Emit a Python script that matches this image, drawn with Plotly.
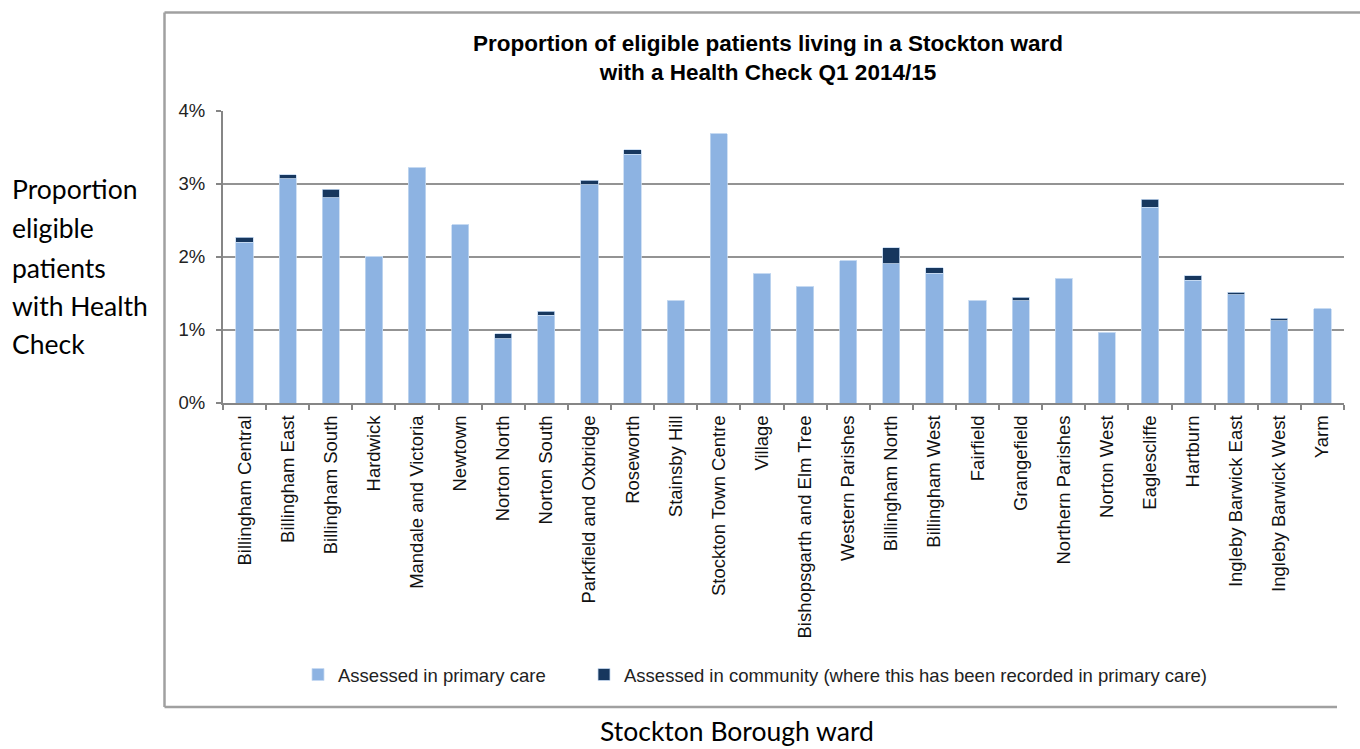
import plotly.graph_objects as go

wards = ["Billingham Central", "Billingham East", "Billingham South", "Hardwick",
         "Mandale and Victoria", "Newtown", "Norton North", "Norton South",
         "Parkfield and Oxbridge", "Roseworth", "Stainsby Hill", "Stockton Town Centre",
         "Village", "Bishopsgarth and Elm Tree", "Western Parishes", "Billingham North",
         "Billingham West", "Fairfield", "Grangefield", "Northern Parishes", "Norton West",
         "Eaglescliffe", "Hartburn", "Ingleby Barwick East", "Ingleby Barwick West", "Yarm"]

primary_care = [2.20, 3.07, 2.81, 2.01, 3.23, 2.44, 0.88, 1.20,
                2.99, 3.41, 1.41, 3.69, 1.77, 1.59, 1.95, 1.91,
                1.78, 1.41, 1.40, 1.71, 0.97, 2.68, 1.68, 1.48, 1.13, 1.29]
community = [0.07, 0.06, 0.12, 0.00, 0.00, 0.00, 0.07, 0.06,
             0.06, 0.06, 0.00, 0.00, 0.00, 0.00, 0.00, 0.22,
             0.07, 0.00, 0.05, 0.00, 0.00, 0.11, 0.06, 0.04, 0.03, 0.00]

y_ticks = [0, 1, 2, 3, 4]
y_tick_labels = ["0%", "1%", "2%", "3%", "4%"]

W, H = 1360, 749
L, R, T, B = 223, 16, 111, 346
pw, ph = W - L - R, H - T - B


def px_x(p):
    return (p - L) / pw


def px_y(p):
    return (H - B - p) / ph


font_main = "Liberation Sans, Arial, sans-serif"
font_side = "Lato, Carlito, Calibri, sans-serif"

fig = go.Figure()
fig.add_trace(go.Bar(x=wards, y=primary_care, name="Assessed in primary care",
                     legend="legend",
                     marker=dict(color="#8DB3E2", line=dict(color="#C6D9F1", width=0.8))))
fig.add_trace(go.Bar(x=wards, y=community,
                     name="Assessed in community (where this has been recorded in primary care)",
                     legend="legend2",
                     marker=dict(color="#17375E", line=dict(color="#C6D9F1", width=0.8))))

legend_common = dict(orientation="h", xanchor="left", yanchor="middle",
                     font=dict(family=font_main, size=18.5, color="#222222"),
                     bgcolor="rgba(0,0,0,0)", itemwidth=30)

fig.update_layout(
    width=W, height=H,
    barmode="stack", bargap=0.6,
    margin=dict(l=L, r=R, t=T, b=B, autoexpand=False),
    paper_bgcolor="white", plot_bgcolor="white",
    font=dict(family=font_main, size=18.5, color="#222222"),
    title=dict(text="<b>Proportion of eligible patients living in a Stockton ward<br>with a Health Check Q1 2014/15</b>",
               x=768 / W, xanchor="center", y=1 - 51 / H, yanchor="middle",
               font=dict(family=font_main, size=22.5, color="#000000")),
    xaxis=dict(type="category", tickson="boundaries", ticks="outside", ticklen=5,
               tickcolor="#868686", tickwidth=1.5, showline=True, linecolor="#868686",
               linewidth=2, tickangle=-90, showgrid=False, ticklabelstandoff=3,
               tickfont=dict(family=font_main, size=18.5, color="#111111")),
    yaxis=dict(range=[0, 4], tickvals=y_ticks, ticktext=y_tick_labels, ticks="outside",
               ticklen=5, tickcolor="#868686", tickwidth=1.5, showline=True,
               linecolor="#868686", linewidth=2, showgrid=True, gridcolor="#939393",
               gridwidth=1.5, zeroline=False, ticklabelstandoff=7,
               tickfont=dict(family=font_main, size=18.5, color="#222222")),
    legend=dict(x=px_x(298), y=px_y(675), **legend_common),
    legend2=dict(x=px_x(584), y=px_y(675), **legend_common),
    showlegend=True,
)

# outer frame of the embedded chart
frame_line = dict(color="#A0A0A0", width=2.5)
fig.add_shape(type="line", xref="paper", yref="paper",
              x0=px_x(164.5), x1=px_x(1360), y0=px_y(12.5), y1=px_y(12.5), line=frame_line)
fig.add_shape(type="line", xref="paper", yref="paper",
              x0=px_x(164.5), x1=px_x(164.5), y0=px_y(12.5), y1=px_y(707), line=frame_line)
fig.add_shape(type="line", xref="paper", yref="paper",
              x0=px_x(164.5), x1=px_x(1337), y0=px_y(707), y1=px_y(707), line=frame_line)

side_lines = ["Proportion", "eligible", "patients", "with Health", "Check"]
side_y = [189, 228, 268, 306, 344]
for txt, yy in zip(side_lines, side_y):
    fig.add_annotation(text=txt, xref="paper", yref="paper", x=px_x(10), xanchor="left",
                       y=px_y(yy), yanchor="middle", showarrow=False,
                       font=dict(family=font_side, size=26.5, color="#000000"))

fig.add_annotation(text="Stockton Borough ward", xref="paper", yref="paper",
                   x=px_x(737), xanchor="center", y=px_y(731), yanchor="middle",
                   showarrow=False,
                   font=dict(family=font_side, size=26.5, color="#000000"))

fig.write_html("out.html", config={"displayModeBar": False},
               post_script="document.body.style.margin='0';document.body.style.overflow='hidden';")
